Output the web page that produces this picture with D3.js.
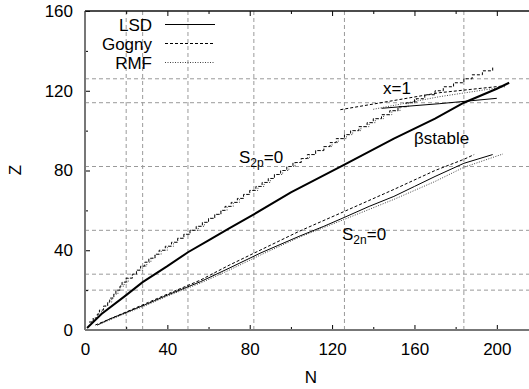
<!DOCTYPE html>
<html>
<head>
<meta charset="utf-8">
<script src="https://cdn.jsdelivr.net/npm/d3@7"></script>
<style>
body { margin: 0; background: #fff; }
text { font-family: "Liberation Sans", Arial, Helvetica, sans-serif; }
</style>
</head>
<body>
<div id="viz"></div>
<script>
// data - [N, Z]

// beta stability (LSD, thick)
var betaStable = [[1, 1], [8, 8], [20, 17.5], [28, 24], [40, 32], [50, 39], [60, 45], [70, 51],
    [82, 58], [100, 69], [126, 83], [150, 96], [170, 106], [184, 114], [200, 121], [206, 124]];

// S2p = 0 (proton drip), Gogny and RMF
var gognyS2p = [[2, 4], [4, 6], [6, 8], [7, 10], [9, 12], [11, 14], [12, 16], [14, 18], [15, 20],
    [17, 22], [18, 24], [20, 26], [23, 28], [25, 30], [27, 32], [29, 34], [31, 36], [34, 38],
    [36, 40], [39, 42], [42, 44], [45, 46], [48, 48], [51, 50], [54, 52], [57, 54], [60, 56],
    [63, 58], [66, 60], [68, 62], [71, 64], [74, 66], [77, 68], [80, 70], [83, 72], [86, 74],
    [89, 76], [92, 78], [95, 80], [98, 82], [101, 84], [105, 86], [108, 88], [112, 90], [116, 92],
    [119, 94], [122, 96], [126, 98], [129, 100], [133, 102], [137, 104], [140, 106], [144, 108],
    [148, 110], [152, 112], [156, 114], [160, 116], [165, 118], [170, 120], [174, 122], [179, 124],
    [184, 126], [188, 128], [193, 130], [198, 132]];
var rmfS2p = [[3, 4], [4, 6], [6, 8], [8, 10], [9, 12], [11, 14], [13, 16], [14, 18], [16, 20],
    [17, 22], [19, 24], [21, 26], [23, 28], [25, 30], [28, 32], [30, 34], [32, 36], [34, 38],
    [37, 40], [40, 42], [43, 44], [45, 46], [48, 48], [51, 50], [55, 52], [58, 54], [60, 56],
    [63, 58], [66, 60], [69, 62], [72, 64], [75, 66], [77, 68], [80, 70], [84, 72], [87, 74],
    [90, 76], [92, 78], [96, 80], [99, 82], [102, 84], [105, 86], [109, 88], [112, 90], [116, 92],
    [120, 94], [123, 96], [127, 98], [130, 100], [134, 102], [138, 104], [141, 106], [145, 108],
    [149, 110], [153, 112], [157, 114], [161, 116]];

// S2n = 0 (neutron drip)
var lsdS2n = [[6, 2.5], [12, 5.5], [19, 8.4], [30, 13], [40, 17.5], [56, 24.2], [70, 31], [85, 38.5],
    [104, 47], [116, 52], [126, 56.5], [138, 62], [150, 67], [160, 72], [170, 77], [184, 83.6], [198, 88]];
var gognyS2n = [[5, 2.5], [12, 5.5], [19, 8.6], [30, 13.5], [40, 18], [56, 25], [70, 32.5], [85, 40],
    [104, 49.5], [126, 59.5], [150, 70.5], [170, 80], [184, 85.6], [189, 88]];
var rmfS2n = [[6, 2.5], [12, 5], [19, 8], [30, 12.5], [40, 17], [56, 23.5], [70, 30], [85, 37.5],
    [104, 46.5], [126, 55.5], [150, 65.5], [170, 74.5], [184, 81.6], [203, 88.3]];

// x = 1 lines
var lsdX1 = [[144, 111.2], [172, 113.5], [200, 116.2]];
var gognyX1 = [[124, 110.5], [172, 119], [204, 122.5]];
var rmfX1 = [[140, 110.7], [172, 117], [204, 122]];

// magic numbers (grid) and ticks
var gridN = [20, 28, 50, 82, 126, 184];
var gridZ = [20, 28, 50, 82, 114, 126];
var xMajor = [0, 40, 80, 120, 160, 200];
var xMinor = [20, 60, 100, 140, 180, 220];
var yMajor = [0, 40, 80, 120, 160];
var yMinor = [20, 60, 100, 140];

var legendNames = ['LSD', 'Gogny', 'RMF'];

var W = 529, H = 389;
var fontSize = 17;

var svg = d3
.select('#viz')
.append('svg')
.attr('width', W)
.attr('height', H)
;

var x = d3.scaleLinear().domain([0, 220]).range([85, 538]);
var y = d3.scaleLinear().domain([0, 160]).range([330, 11]);

svg.append('defs')
.append('clipPath')
.attr('id', 'plotclip')
.append('rect')
.attr('x', x(0))
.attr('y', y(160))
.attr('width', x(220) - x(0))
.attr('height', y(0) - y(160))
;

// dashed grid at the magic numbers
svg.append('g')
.selectAll('line')
.data(gridZ)
.enter()
.append('line')
.attr('x1', x(0))
.attr('x2', x(220))
.attr('y1', function(d){return y(d);})
.attr('y2', function(d){return y(d);})
.attr('stroke', '#9a9a9a')
.attr('stroke-dasharray', '4,3')
;

svg.append('g')
.selectAll('line')
.data(gridN)
.enter()
.append('line')
.attr('x1', function(d){return x(d);})
.attr('x2', function(d){return x(d);})
.attr('y1', y(0))
.attr('y2', y(160))
.attr('stroke', '#9a9a9a')
.attr('stroke-dasharray', '4,3')
;

// axes - ticks point inward like gnuplot
function styleAxis(g) {
    g.select('.domain').remove();
    g.attr('font-size', fontSize)
     .attr('font-family', '"Liberation Sans", Arial, sans-serif')
     .attr('color', '#000');
}

svg.append('g')
.attr('transform', 'translate(0,' + y(0) + ')')
.call(d3.axisBottom(x).tickValues(xMajor).tickSize(-5).tickPadding(13).tickSizeOuter(0))
.call(styleAxis)
;
svg.append('g')
.attr('transform', 'translate(0,' + y(0) + ')')
.call(d3.axisBottom(x).tickValues(xMinor).tickSize(-3).tickFormat('').tickSizeOuter(0))
.call(styleAxis)
;
svg.append('g')
.attr('transform', 'translate(0,' + y(160) + ')')
.call(d3.axisTop(x).tickValues(xMajor).tickSize(-5).tickFormat('').tickSizeOuter(0))
.call(styleAxis)
;
svg.append('g')
.attr('transform', 'translate(0,' + y(160) + ')')
.call(d3.axisTop(x).tickValues(xMinor).tickSize(-3).tickFormat('').tickSizeOuter(0))
.call(styleAxis)
;
svg.append('g')
.attr('transform', 'translate(' + x(0) + ',0)')
.call(d3.axisLeft(y).tickValues(yMajor).tickSize(-5).tickPadding(12).tickSizeOuter(0))
.call(styleAxis)
;
svg.append('g')
.attr('transform', 'translate(' + x(0) + ',0)')
.call(d3.axisLeft(y).tickValues(yMinor).tickSize(-3).tickFormat('').tickSizeOuter(0))
.call(styleAxis)
;

// frame (right side falls outside the picture)
svg.append('line')
.attr('x1', x(0)).attr('x2', x(0))
.attr('y1', y(160)).attr('y2', y(0))
.attr('stroke', '#777').attr('stroke-width', 2)
;
svg.append('line')
.attr('x1', x(0)).attr('x2', W)
.attr('y1', y(0)).attr('y2', y(0))
.attr('stroke', '#777').attr('stroke-width', 2)
;
svg.append('line')
.attr('x1', x(0)).attr('x2', W)
.attr('y1', y(160)).attr('y2', y(160))
.attr('stroke', '#111').attr('stroke-width', 1.5)
;

// curves
var line = d3.line()
.x(function(d){return x(d[0]);})
.y(function(d){return y(d[1]);})
;
var stepLine = d3.line()
.x(function(d){return x(d[0]);})
.y(function(d){return y(d[1]);})
.curve(d3.curveStepAfter)
;

var styles = {
    LSD: {stroke: '#000', dash: null},
    Gogny: {stroke: '#000', dash: '3,2'},
    RMF: {stroke: '#444', dash: '1,1.5'}
};

var curves = [
    {data: gognyS2p, model: 'Gogny', step: true, w: 1},
    {data: rmfS2p, model: 'RMF', step: true, w: 1},
    {data: lsdS2n, model: 'LSD', step: false, w: 1},
    {data: gognyS2n, model: 'Gogny', step: false, w: 1},
    {data: rmfS2n, model: 'RMF', step: false, w: 1},
    {data: lsdX1, model: 'LSD', step: false, w: 1},
    {data: gognyX1, model: 'Gogny', step: false, w: 1},
    {data: rmfX1, model: 'RMF', step: false, w: 1},
    {data: betaStable, model: 'LSD', step: false, w: 2}
];

svg.append('g')
.attr('clip-path', 'url(#plotclip)')
.selectAll('path')
.data(curves)
.enter()
.append('path')
.attr('d', function(d){return d.step ? stepLine(d.data) : line(d.data);})
.attr('fill', 'none')
.attr('stroke', function(d){return styles[d.model].stroke;})
.attr('stroke-width', function(d){return d.w;})
.attr('stroke-dasharray', function(d){return styles[d.model].dash;})
;

// legend
var legend = svg.append('g')
.selectAll('g')
.data(legendNames)
.enter()
.append('g')
.attr('transform', function(d, i){return 'translate(0,' + (24.5 + i * 19) + ')';})
;
legend.append('text')
.attr('x', 152)
.attr('y', 6)
.attr('text-anchor', 'end')
.attr('font-size', fontSize)
.text(function(d){return d;})
;
legend.append('line')
.attr('x1', 165)
.attr('x2', 215)
.attr('stroke', function(d){return styles[d].stroke;})
.attr('stroke-dasharray', function(d){return styles[d].dash;})
;

// axis titles
svg.append('text')
.attr('x', 311)
.attr('y', 383)
.attr('text-anchor', 'middle')
.attr('font-size', fontSize)
.text('N')
;
svg.append('text')
.attr('transform', 'translate(21,170) rotate(-90)')
.attr('text-anchor', 'middle')
.attr('font-size', fontSize)
.text('Z')
;

// annotations
function subLabel(px, py, main, sub, rest) {
    var t = svg.append('text')
    .attr('x', px)
    .attr('y', py)
    .attr('font-size', fontSize)
    ;
    t.append('tspan').text(main);
    t.append('tspan').attr('font-size', 12).attr('dy', 4).text(sub);
    t.append('tspan').attr('dy', -4).text(rest);
}
subLabel(239, 163, 'S', '2p', '=0');
subLabel(342, 239.5, 'S', '2n', '=0');

svg.append('text')
.attr('x', 414)
.attr('y', 144)
.attr('font-size', fontSize)
.text('\u03B2stable')
;
svg.append('text')
.attr('x', 383)
.attr('y', 93.5)
.attr('font-size', fontSize)
.text('x=1')
;
</script>
</body>
</html>
